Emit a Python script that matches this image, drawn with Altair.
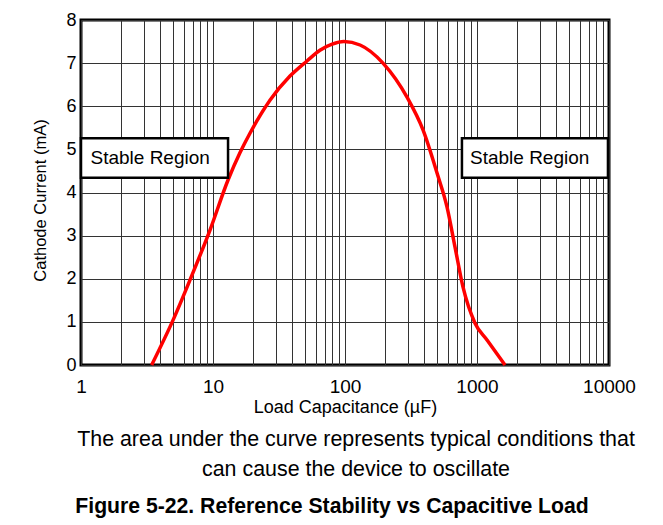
import altair as alt
import pandas as pd

# Curve (load capacitance in uF, cathode current in mA)
cap_uF = [3.43, 4.98, 6.69, 9.49, 13.0, 16.0, 19.1, 27.0, 38.3, 51.5, 64.6, 80, 98,
          130, 194, 295, 390, 498, 593, 681, 783, 966, 1191, 1630]
cur_mA = [0, 1.04, 1.97, 3.13, 4.29, 4.92, 5.38, 6.14, 6.7, 7.05, 7.3, 7.44, 7.5,
          7.42, 7.0, 6.21, 5.45, 4.45, 3.66, 2.74, 1.81, 0.97, 0.58, 0]

# Axis ticks / grid
x_ticks = [1, 2, 3, 4, 5, 6, 7, 8, 9,
           10, 20, 30, 40, 50, 60, 70, 80, 90,
           100, 200, 300, 400, 500, 600, 700, 800, 900,
           1000, 2000, 3000, 4000, 5000, 6000, 7000, 8000, 9000,
           10000]
x_labels = [1, 10, 100, 1000, 10000]
y_ticks = [0, 1, 2, 3, 4, 5, 6, 7, 8]

# "Stable Region" annotation boxes
box_x1 = [1.0, 769]
box_x2 = [13.0, 9820]
box_y1 = [4.34, 4.34]
box_y2 = [5.26, 5.26]
box_text = ["Stable Region", "Stable Region"]
box_text_x = [1.18, 885]
box_text_y = [4.8, 4.8]

note_lines = ["The area under the curve represents typical conditions that",
              "can cause the device to oscillate"]
caption = "Figure 5-22. Reference Stability vs Capacitive Load"

FONT = "Liberation Sans"
W, H = 528, 345

curve_df = pd.DataFrame({"cap": cap_uF, "cur": cur_mA})
box_df = pd.DataFrame({"x1": box_x1, "x2": box_x2, "y1": box_y1, "y2": box_y2,
                       "tx": box_text_x, "ty": box_text_y, "label": box_text})

label_list = ",".join(str(v) for v in x_labels)
x_axis = alt.Axis(values=x_ticks, grid=True, ticks=False, domain=False,
                  labelExpr=f"indexof([{label_list}], datum.value) >= 0 ? format(datum.value, 'd') : ''",
                  labelOverlap=False, labelFlush=False, labelPadding=12,
                  labelFontSize=19, title="Load Capacitance (\u00b5F)",
                  titleFontSize=18, titlePadding=2)
y_axis = alt.Axis(values=y_ticks, grid=True, ticks=False, domain=False,
                  labelPadding=5, labelFontSize=18,
                  title="Cathode Current (mA)", titleFontSize=16.5,
                  titlePadding=17, titleY=180)

xs = alt.Scale(type="log", domain=[1, 10000], nice=False)
ys = alt.Scale(domain=[0, 8], nice=False)

line = alt.Chart(curve_df).mark_line(color="#ff0000", strokeWidth=3.5,
                                     interpolate="monotone").encode(
    x=alt.X("cap:Q", scale=xs, axis=x_axis),
    y=alt.Y("cur:Q", scale=ys, axis=y_axis),
)

boxes = alt.Chart(box_df).mark_rect(fill="white", stroke="black",
                                    strokeWidth=2.5).encode(
    x=alt.X("x1:Q", scale=xs), x2="x2:Q",
    y=alt.Y("y1:Q", scale=ys), y2="y2:Q",
)

box_labels = alt.Chart(box_df).mark_text(align="left", baseline="middle",
                                         fontSize=19, font=FONT,
                                         color="black").encode(
    x=alt.X("tx:Q", scale=xs), y=alt.Y("ty:Q", scale=ys), text="label:N"
)

notes = alt.Chart(pd.DataFrame({"t": [0]})).mark_text(
    text=note_lines, lineHeight=30, align="center", baseline="alphabetic",
    fontSize=21.4, font=FONT, color="black"
).encode(x=alt.value(275), y=alt.value(426))

cap_text = alt.Chart(pd.DataFrame({"t": [0]})).mark_text(
    text=caption, align="center", baseline="alphabetic",
    fontSize=21.2, fontWeight="bold", font=FONT, color="black"
).encode(x=alt.value(251), y=alt.value(493))

chart = alt.layer(line, boxes, box_labels, notes, cap_text).properties(
    width=W, height=H,
    autosize=alt.AutoSizeParams(type="none"),
    padding={"left": 73, "top": 12, "right": 42, "bottom": 154},
).configure_view(
    stroke="black", strokeWidth=3
).configure_axis(
    gridColor="#333333", gridWidth=1, gridOpacity=1,
    labelFont=FONT, titleFont=FONT, labelColor="black", titleColor="black",
    titleFontWeight="normal"
)

chart.save("out.html", embed_options={"renderer": "svg", "actions": False})
